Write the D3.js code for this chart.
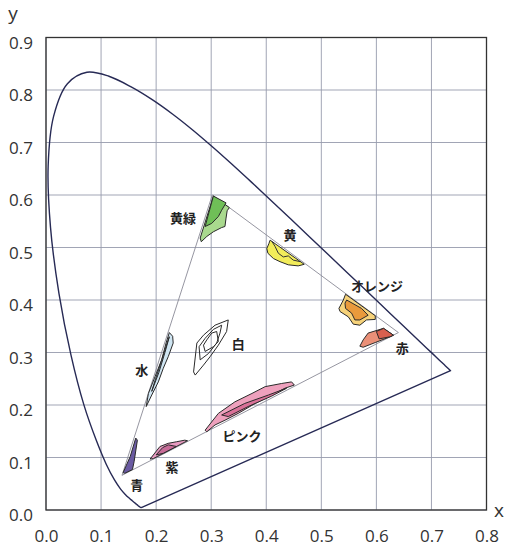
<!DOCTYPE html>
<html>
<head>
<meta charset="utf-8">
<script src="https://cdn.jsdelivr.net/npm/d3@7"></script>
<style>
  body { margin: 0; background: #fff; }
  svg { display: block; }
  .tick text { font-family: "Open Sans", "Noto Sans", sans-serif; font-size: 17px; fill: #333; }
  .lbl { font-family: "Noto Sans CJK JP", sans-serif; font-size: 13px; font-weight: 700; fill: #222; }
</style>
</head>
<body>
<svg id="chart" width="507" height="548"></svg>
<script>
// CIE 1931 spectral locus (x, y), 380–700 nm
const locus = [
  [0.1741, 0.0050], [0.1738, 0.0049], [0.1733, 0.0048], [0.1726, 0.0048],
  [0.1714, 0.0051], [0.1703, 0.0058], [0.1689, 0.0069], [0.1669, 0.0086],
  [0.1644, 0.0109], [0.1611, 0.0138], [0.1566, 0.0177], [0.1510, 0.0227],
  [0.1440, 0.0297], [0.1355, 0.0399], [0.1241, 0.0578], [0.1096, 0.0868],
  [0.0913, 0.1327], [0.0687, 0.2007], [0.0454, 0.2950], [0.0235, 0.4127],
  [0.0082, 0.5384], [0.0039, 0.6548], [0.0139, 0.7502], [0.0389, 0.8120],
  [0.0743, 0.8338], [0.1142, 0.8262], [0.1547, 0.8059], [0.1929, 0.7816],
  [0.2296, 0.7543], [0.2658, 0.7243], [0.3016, 0.6923], [0.3373, 0.6589],
  [0.3731, 0.6245], [0.4087, 0.5896], [0.4441, 0.5547], [0.4788, 0.5202],
  [0.5125, 0.4866], [0.5448, 0.4544], [0.5752, 0.4242], [0.6029, 0.3965],
  [0.6270, 0.3725], [0.6482, 0.3514], [0.6658, 0.3340], [0.6801, 0.3197],
  [0.6915, 0.3083], [0.7006, 0.2993], [0.7079, 0.2920], [0.7140, 0.2859],
  [0.7190, 0.2809], [0.7230, 0.2770], [0.7260, 0.2740], [0.7300, 0.2700],
  [0.7347, 0.2653]
];

// display gamut triangle
const gamut = [[0.302, 0.600], [0.640, 0.338], [0.138, 0.066]];

const xTicks = [0, 0.1, 0.2, 0.3, 0.4, 0.5, 0.6, 0.7, 0.8];
const yTicks = [0, 0.1, 0.2, 0.3, 0.4, 0.5, 0.6, 0.7, 0.8, 0.9];

// colour regions: outer / inner outlines
const yellowGreen = [[0.304, 0.598], [0.333, 0.576], [0.329, 0.570], [0.327, 0.556], [0.325, 0.540],
  [0.319, 0.538], [0.304, 0.530], [0.292, 0.521], [0.282, 0.511], [0.280, 0.518]];
const yellowGreenIn = [[0.304, 0.598], [0.327, 0.585], [0.319, 0.571], [0.313, 0.559],
  [0.301, 0.546], [0.289, 0.540]];
const yellow = [[0.407, 0.514], [0.469, 0.468], [0.458, 0.465], [0.440, 0.467], [0.425, 0.473],
  [0.413, 0.479], [0.403, 0.489], [0.401, 0.498], [0.405, 0.508]];
const yellowIn = [[0.410, 0.512], [0.416, 0.502], [0.422, 0.489], [0.431, 0.482], [0.440, 0.484],
  [0.449, 0.476], [0.462, 0.473]];
const orange = [[0.544, 0.411], [0.598, 0.370], [0.598, 0.363], [0.582, 0.362], [0.570, 0.352],
  [0.558, 0.354], [0.549, 0.368], [0.534, 0.378], [0.532, 0.384], [0.540, 0.400]];
const orangeIn = [[0.546, 0.400], [0.573, 0.384], [0.585, 0.371], [0.570, 0.362], [0.561, 0.362],
  [0.555, 0.375], [0.544, 0.384], [0.543, 0.394]];
const red = [[0.585, 0.337], [0.613, 0.346], [0.631, 0.333], [0.625, 0.330], [0.598, 0.319],
  [0.576, 0.310], [0.570, 0.312], [0.576, 0.324]];
const redIn = [[0.600, 0.340], [0.613, 0.346], [0.631, 0.333], [0.625, 0.330], [0.605, 0.326]];
const white1 = [[0.331, 0.362], [0.328, 0.340], [0.313, 0.314], [0.298, 0.292], [0.286, 0.276],
  [0.271, 0.257], [0.268, 0.263], [0.274, 0.318], [0.286, 0.333], [0.307, 0.352]];
const white2 = [[0.319, 0.352], [0.316, 0.337], [0.310, 0.318], [0.295, 0.298], [0.280, 0.286],
  [0.278, 0.311], [0.289, 0.327], [0.304, 0.344]];
const white3 = [[0.310, 0.340], [0.313, 0.321], [0.304, 0.311], [0.289, 0.302], [0.286, 0.314],
  [0.292, 0.324], [0.301, 0.337]];
const cyan = [[0.224, 0.338], [0.230, 0.331], [0.231, 0.318], [0.222, 0.292], [0.213, 0.270],
  [0.204, 0.244], [0.192, 0.219], [0.182, 0.197], [0.186, 0.222], [0.198, 0.254],
  [0.210, 0.286], [0.218, 0.318]];
const cyanIn = [[0.224, 0.330], [0.216, 0.300], [0.205, 0.262], [0.192, 0.226], [0.199, 0.250],
  [0.210, 0.285], [0.220, 0.318]];
const blue = [[0.163, 0.137], [0.166, 0.133], [0.160, 0.092], [0.157, 0.077], [0.143, 0.070],
  [0.140, 0.071], [0.153, 0.102]];
const purple = [[0.189, 0.097], [0.207, 0.121], [0.222, 0.127], [0.237, 0.130], [0.252, 0.133],
  [0.257, 0.132], [0.237, 0.121], [0.213, 0.108], [0.195, 0.098]];
const purpleIn = [[0.200, 0.105], [0.212, 0.119], [0.222, 0.124], [0.237, 0.121], [0.213, 0.108]];
const pink = [[0.289, 0.152], [0.313, 0.184], [0.343, 0.206], [0.374, 0.222], [0.398, 0.235],
  [0.428, 0.241], [0.446, 0.244], [0.451, 0.238], [0.434, 0.232], [0.410, 0.219], [0.380, 0.203],
  [0.349, 0.184], [0.325, 0.171], [0.307, 0.162], [0.292, 0.149]];
const pinkIn = [[0.319, 0.181], [0.361, 0.203], [0.404, 0.219], [0.437, 0.232], [0.410, 0.217],
  [0.367, 0.197], [0.331, 0.178]];

const regions = [
  { pts: yellowGreen, fill: "#a9d98e" }, { pts: yellowGreenIn, fill: "#6fbf57" },
  { pts: yellow, fill: "#f2ec5a" }, { pts: yellowIn, fill: "#e5dc22", open: true },
  { pts: orange, fill: "#f6d27a" }, { pts: orangeIn, fill: "#e99a3c" },
  { pts: red, fill: "#ea9078" }, { pts: redIn, fill: "#d8604e" },
  { pts: white1, fill: "none" }, { pts: white2, fill: "none" }, { pts: white3, fill: "none" },
  { pts: cyan, fill: "#cfe5f2" }, { pts: cyanIn, fill: "#98bddb" },
  { pts: blue, fill: "#6a5aa2" },
  { pts: purple, fill: "#e79ac0" }, { pts: purpleIn, fill: "#c86b98" },
  { pts: pink, fill: "#eea1bd" }, { pts: pinkIn, fill: "#d97198" }
];

const labels = [
  { t: "黄緑", x: 0.249, y: 0.558 }, { t: "黄", x: 0.443, y: 0.524 },
  { t: "オレンジ", x: 0.601, y: 0.427 }, { t: "赤", x: 0.647, y: 0.310 },
  { t: "白", x: 0.349, y: 0.318 }, { t: "水", x: 0.174, y: 0.267 },
  { t: "青", x: 0.165, y: 0.048 }, { t: "紫", x: 0.229, y: 0.082 },
  { t: "ピンク", x: 0.356, y: 0.141 }
];

const svg = d3.select("#chart");
const x = d3.scaleLinear().domain([0, 0.8]).range([46, 486.5]);
const y = d3.scaleLinear().domain([0, 0.9]).range([510, 37.5]);

// grid
svg.append("g").selectAll("line.gx").data(xTicks).enter().append("line")
  .attr("x1", d => x(d)).attr("x2", d => x(d)).attr("y1", y(0)).attr("y2", y(0.9))
  .attr("stroke", "#969bad").attr("stroke-width", 0.9);
svg.append("g").selectAll("line.gy").data(yTicks).enter().append("line")
  .attr("x1", x(0)).attr("x2", x(0.8)).attr("y1", d => y(d)).attr("y2", d => y(d))
  .attr("stroke", "#969bad").attr("stroke-width", 0.9);

// frame
svg.append("rect").attr("x", x(0)).attr("y", y(0.9))
  .attr("width", x(0.8) - x(0)).attr("height", y(0) - y(0.9))
  .attr("fill", "none").attr("stroke", "#333").attr("stroke-width", 1.3);

// axes (labels only)
const fmt = d3.format(".1f");
const xAxis = svg.append("g").attr("transform", `translate(0,${y(0)})`)
  .call(d3.axisBottom(x).tickValues(xTicks).tickFormat(fmt).tickSize(0).tickPadding(20));
const yAxis = svg.append("g").attr("transform", `translate(${x(0)},0)`)
  .call(d3.axisLeft(y).tickValues(yTicks).tickFormat(fmt).tickSize(0).tickPadding(13));
[xAxis, yAxis].forEach(a => a.select(".domain").remove());
yAxis.selectAll(".tick text").attr("dy", "0.62em");

svg.append("text").attr("x", 13).attr("y", 20).attr("text-anchor", "middle")
  .style("font-family", "Open Sans, sans-serif").style("font-size", "19px").attr("fill", "#333").text("y");
svg.append("text").attr("x", 499).attr("y", 517).attr("text-anchor", "middle")
  .style("font-family", "Open Sans, sans-serif").style("font-size", "19px").attr("fill", "#333").text("x");

const line = d3.line().x(d => x(d[0])).y(d => y(d[1]));
const smooth = d3.line().x(d => x(d[0])).y(d => y(d[1])).curve(d3.curveCatmullRom.alpha(0.5));

// spectral locus, closed by the purple line
svg.append("path").attr("d", smooth(locus) + "Z")
  .attr("fill", "none").attr("stroke", "#272a55").attr("stroke-width", 1.4)
  .attr("stroke-linejoin", "round");

// gamut triangle
svg.append("path").attr("d", line(gamut) + "Z")
  .attr("fill", "none").attr("stroke", "#8a8a96").attr("stroke-width", 0.9);

// colour regions
svg.append("g").selectAll("path").data(regions).enter().append("path")
  .attr("d", d => line(d.pts) + (d.open ? "" : "Z"))
  .attr("fill", d => d.open ? "none" : d.fill)
  .attr("stroke", d => d.open ? "#333" : "#2a2a2a")
  .attr("stroke-width", 1)
  .attr("stroke-linejoin", "round");

// labels
svg.append("g").selectAll("text").data(labels).enter().append("text")
  .attr("class", "lbl")
  .attr("x", d => x(d.x)).attr("y", d => y(d.y))
  .attr("text-anchor", "middle").attr("dominant-baseline", "central")
  .text(d => d.t);
</script>
</body>
</html>
